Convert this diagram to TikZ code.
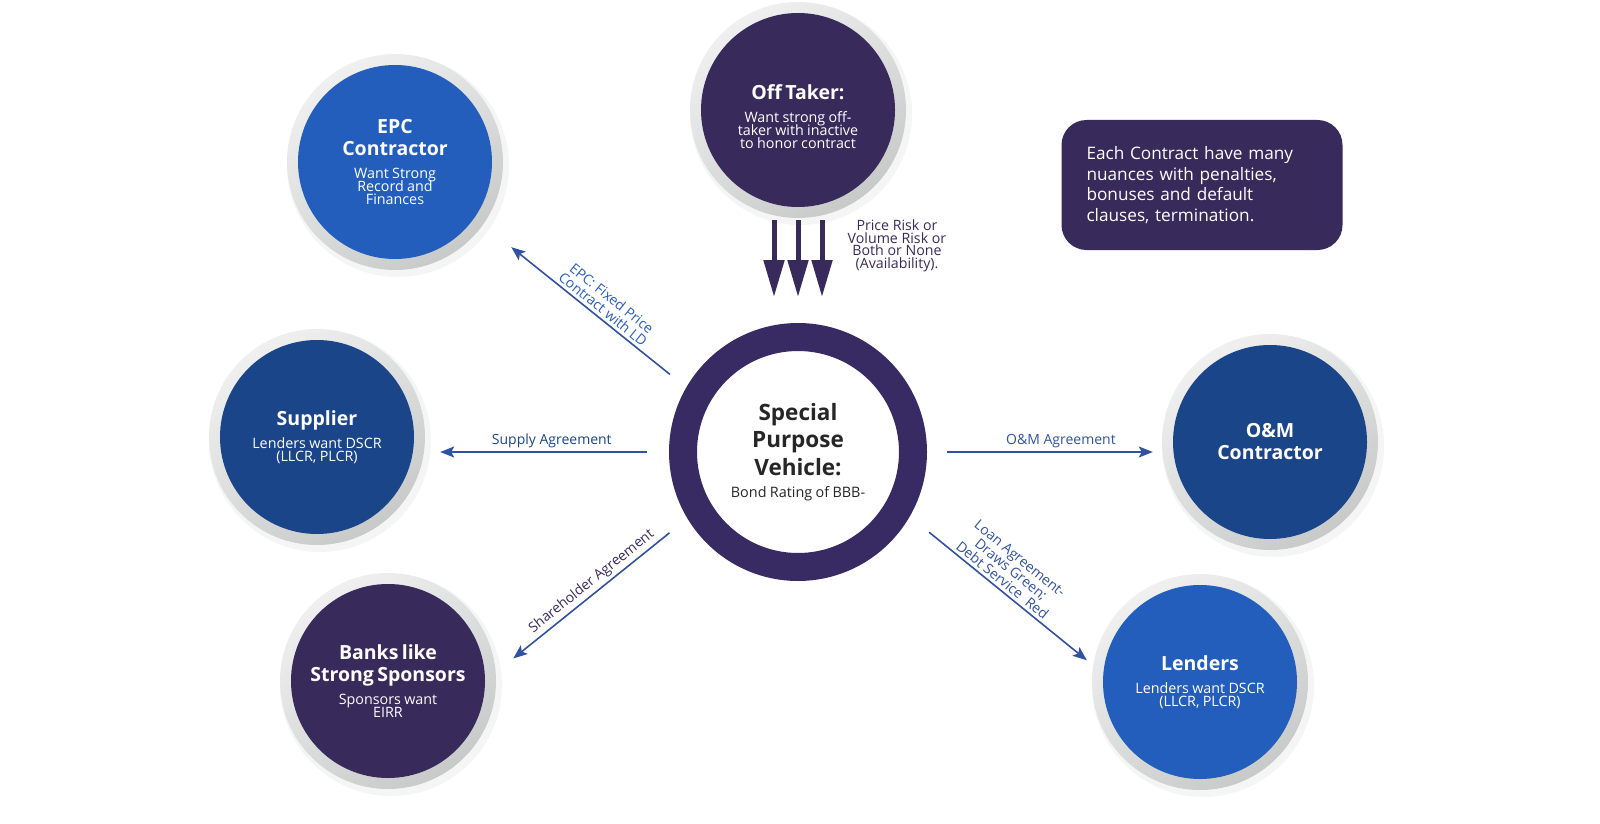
\documentclass[tikz,border=0pt]{standalone}
\usepackage{fontspec}
\setmainfont{Open Sans}
\usepackage{tikz}
\usetikzlibrary{arrows.meta}
\usetikzlibrary{backgrounds}

\definecolor{brightblue}{RGB}{35,94,189}
\definecolor{deepblue}{RGB}{27,69,137}
\definecolor{plum}{RGB}{57,42,92}
\definecolor{spvring}{RGB}{56,42,98}
\definecolor{linkblue}{RGB}{48,82,160}
\definecolor{labelblue}{RGB}{42,92,190}
\definecolor{ringlight}{RGB}{240,240,240}
\definecolor{ringdark}{RGB}{200,202,202}

\newcommand{\headtxt}[1]{{\fontsize{19.5}{22}\selectfont\bfseries\lineskiplimit=-30pt #1\par}}
\newcommand{\subtxt}[1]{\vspace{10pt}{\fontsize{14.3}{13}\selectfont\lineskiplimit=-30pt #1\par}}

\begin{document}
\begin{tikzpicture}[x=1pt,y=-1pt,
	party/.style={circle, minimum size=194pt, inner sep=0pt, text=white, text width=170pt, align=center},
	link/.style={-{Stealth[length=14pt,width=11pt,inset=3pt]}, line width=1.6pt, color=linkblue},
	linklabel/.style={font=\fontsize{14}{14}\selectfont, inner sep=3pt, align=center},
	bigarrow/.style={-{Triangle[length=37pt,width=20pt]}, line width=5pt, color=plum}]
		\useasboundingbox (0,0) rectangle (1600,824);

		\node[circle, minimum size=230pt, inner sep=0pt, draw=spvring, line width=28pt, fill=white, text=black!85, text width=170pt, align=center] (spv) at (798,452) {{\fontsize{22.5}{27.5}\selectfont\bfseries Special\\Purpose\\Vehicle:\par}\vspace{7pt}{\fontsize{14.4}{15}\selectfont Bond Rating of BBB-\par}};

		\node[party, fill=plum] (off) at (798,110) {\headtxt{Off Taker:}\subtxt{Want strong off-\\taker with inactive\\to honor contract}\vspace{-14pt}};
		\node[party, fill=brightblue] (epc) at (395,162) {\headtxt{EPC\\Contractor}\subtxt{Want Strong\\Record and\\Finances}};
		\node[party, fill=deepblue] (sup) at (317,437) {\headtxt{Supplier}\subtxt{Lenders want DSCR\\(LLCR, PLCR)}};
		\node[party, fill=deepblue] (om) at (1270,442) {\headtxt{O\&M\\Contractor}};
		\node[party, fill=plum] (banks) at (388,681) {\headtxt{Banks like\\Strong Sponsors}\subtxt{Sponsors want\\EIRR}};
		\node[party, fill=brightblue] (lend) at (1200,682) {\headtxt{Lenders}\subtxt{Lenders want DSCR\\(LLCR, PLCR)}};

		\node[fill=plum, rounded corners=25pt, minimum width=281pt, minimum height=130pt, inner xsep=25pt, text width=231pt, text=white, font=\fontsize{17.2}{20.5}\selectfont, align=left] (note) at (1202,185) {Each Contract have many\\nuances with penalties,\\bonuses and default\\clauses, termination.};

		\node[font=\fontsize{14.2}{12.6}\selectfont, text=plum, align=center] (risk) at (897,246) {Price Risk or\\Volume Risk or\\Both or None\\(Availability).};

		\foreach \dx in {-24,0,24}
			\draw[bigarrow, shorten <=13pt, shorten >=26pt] ([xshift=\dx pt]off.south) -- ([xshift=\dx pt]spv.north);

		\draw[link, shorten <=21pt, shorten >=47pt] (spv.150) -- (epc.-35) node[linklabel, pos=.42, sloped, above, text=labelblue] {EPC: Fixed Price\\Contract with LD};
		\draw[link, shorten <=22pt, shorten >=26pt] (spv.west) -- (spv.west -| sup.east) node[linklabel, pos=.46, above, text=deepblue] {Supply Agreement};
		\draw[link, shorten <=20pt, shorten >=20pt] (spv.east) -- (spv.east -| om.west) node[linklabel, pos=.545, above, text=linkblue] {O\&M Agreement};
		\draw[link, shorten <=23pt, shorten >=36pt] (spv.211) -- (banks.0) node[linklabel, pos=.44, sloped, above, text=plum] {Shareholder Agreement};
		\draw[link, shorten <=25pt, shorten >=21pt] (spv.-30) -- (lend.175) node[linklabel, pos=.45, sloped, above, text=linkblue] {Loan Agreement-\\Draws Green;\\Debt Service\ \ Red};

		\begin{scope}[on background layer]
			\foreach \n in {off,epc,sup,om,banks,lend}{
				\fill[black, opacity=.04] ([shift={(3,4)}]\n) circle (111pt);
				\shade[top color=ringlight, bottom color=ringdark, shading angle=35] (\n) circle (108pt);
			}
		\end{scope}

	\end{tikzpicture}
\end{document}
